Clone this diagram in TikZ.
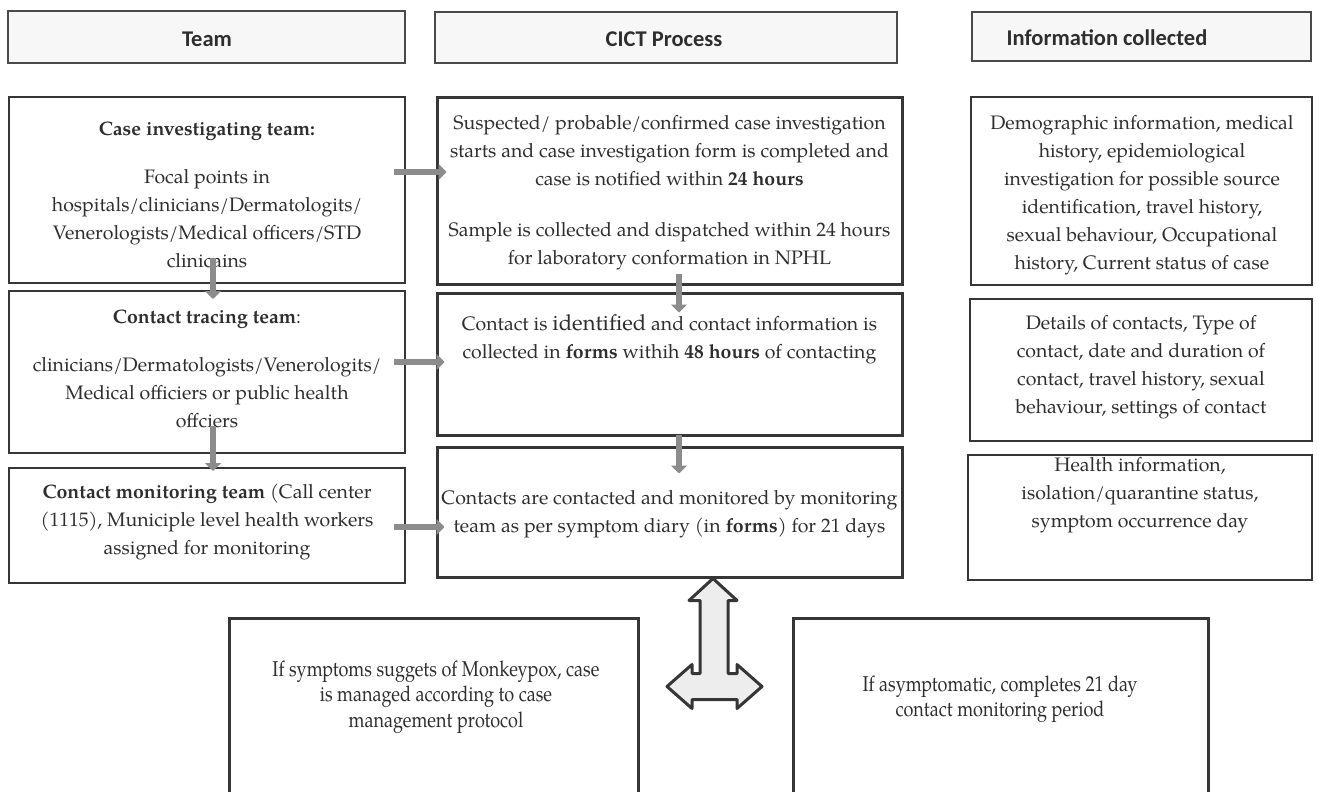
\documentclass[tikz,border=0pt]{standalone}
\usepackage{fontspec}
\setmainfont{TeX Gyre Pagella}
\newfontfamily\hdrfont{Carlito}
\newfontfamily\condfont{TeX Gyre Pagella}[FakeStretch=0.84]
\usetikzlibrary{arrows.meta}
\definecolor{edge}{HTML}{363636}
\definecolor{hedge}{HTML}{4A4A4A}
\definecolor{hfill}{HTML}{F7F7F7}
\definecolor{garr}{HTML}{8C8C8C}
\definecolor{dfill}{HTML}{EDEDED}
\definecolor{txt}{HTML}{2E2E2E}
\tikzset{
  hdrbox/.style={draw=hedge, fill=hfill, line width=1.6pt, inner sep=0pt},
  hdrtext/.style={inner sep=0pt, font=\hdrfont\bfseries\fontsize{22.5}{26}\selectfont, text=txt},
  sidebox/.style={draw=edge, line width=2pt, inner sep=0pt},
  midbox/.style={draw=edge, line width=3pt, inner sep=0pt},
  botbox/.style={draw=edge, line width=3pt, inner sep=0pt},
  bodytext/.style={align=center, inner sep=0pt, text=txt, font=\fontsize{19.5}{28}\selectfont},
  bottext/.style={align=center, inner sep=0pt, text=txt, font=\condfont\fontsize{21.5}{25.5}\selectfont},
  garrow/.style={draw=garr, line width=6.5pt, -{Triangle[length=8pt,width=16pt]}},
  dblarrow/.style={draw=edge, fill=dfill, line width=3pt, line join=round}
}
\begin{document}
\begin{tikzpicture}[x=1pt,y=-1pt]
\useasboundingbox (0,0) rectangle (1317,792);

% header row
\node[hdrbox, minimum width=397pt, minimum height=52pt] (hT) at (206.5,37) {};
\node[hdrbox, minimum width=462pt, minimum height=51pt] (hC) at (666,37.5) {};
\node[hdrbox, minimum width=339pt, minimum height=49pt] (hI) at (1141.5,36.5) {};
\node[hdrtext] (hTt) at (207,39) {Team};
\node[hdrtext] (hCt) at (664,39) {CICT Process};
\node[hdrtext] (hIt) at (1107,38) {Information collected};

% left column
\node[sidebox, minimum width=396pt, minimum height=186pt] (l1) at (207,190) {};
\node[sidebox, minimum width=396pt, minimum height=162pt] (l2) at (207,372) {};
\node[sidebox, minimum width=396pt, minimum height=115pt] (l3) at (207,525.5) {};

% middle column
\node[midbox, minimum width=465pt, minimum height=187pt] (m1) at (669.5,190.5) {};
\node[midbox, minimum width=465pt, minimum height=142pt] (m2) at (669.5,364) {};
\node[midbox, minimum width=465pt, minimum height=130pt] (m3) at (669.5,512) {};

% right column
\node[sidebox, minimum width=341pt, minimum height=188pt] (r1) at (1141.5,191) {};
\node[sidebox, minimum width=342pt, minimum height=142pt] (r2) at (1141,370) {};
\node[sidebox, minimum width=344pt, minimum height=125pt] (r3) at (1140,517.5) {};

% bottom boxes
\node[botbox, minimum width=409pt, minimum height=182pt] (b1) at (433.5,709) {};
\node[botbox, minimum width=415pt, minimum height=182pt] (b2) at (1000.5,709) {};

% texts
\node[bodytext] (l1t) at (207,195) {\textbf{Case investigating team:}\\[20pt]
Focal points in\\ hospitals/clinicians/Dermatologits/\\ Venerologists/Medical officers/STD\\ clinicains};
\node[bodytext] (l2t) at (207,369) {\textbf{Contact tracing team}:\\[20pt]
clinicians/Dermatologists/Venerologits/\\ Medical officiers or public health\\ offciers};
\node[bodytext] (l3t) at (207,522) {\textbf{Contact monitoring team} (Call center\\ (1115), Municiple level health workers\\ assigned for monitoring};

\node[bodytext] (m1t) at (669.5,193) {Suspected/ probable/confirmed case investigation\\ starts and case investigation form  is completed and\\ case is notified within \textbf{24 hours}\\[23pt]
Sample is collected and dispatched within 24 hours\\ for laboratory conformation in NPHL};
\node[bodytext] (m2t) at (669.5,339) {Contact is {\fontsize{22}{28}\selectfont identified} and contact information is\\ collected in  \textbf{forms} withih \textbf{48 hours} of contacting};
\node[bodytext] (m3t) at (669.5,514) {Contacts are contacted and monitored by monitoring\\ team as per symptom diary (in \textbf{forms}) for 21 days};

\node[bodytext] (r1t) at (1142,195) {Demographic information, medical\\ history,  epidemiological\\ investigation for possible source\\ identification, travel history,\\ sexual behaviour,  Occupational\\ history, Current status of case};
\node[bodytext] (r2t) at (1141,367.5) {Details of contacts, Type of\\ contact, date and duration of\\ contact, travel history, sexual\\ behaviour, settings of contact};
\node[bodytext] (r3t) at (1140,495) {Health information,\\ isolation/quarantine status,\\ symptom occurrence day};

\node[bottext] (b1t) at (436,697) {If symptoms suggets of Monkeypox, case\\ is managed according to case\\ management protocol};
\node[bottext] (b2t) at (1000,699) {If asymptomatic, completes 21 day\\ contact monitoring period};

% horizontal gray arrows
\draw[garrow] ([xshift=-12pt,yshift=18pt]l1.east) -- ([xshift=11pt,yshift=18pt]l1.east -| m1.west);
\draw[garrow] ([xshift=-12pt,yshift=10pt]l2.east) -- ([xshift=9pt,yshift=10pt]l2.east -| m2.west);
\draw[garrow] ([xshift=-12pt,yshift=-1.5pt]l3.east) -- ([xshift=9pt,yshift=-1.5pt]l3.east -| m3.west);

% vertical gray arrows
\draw[garrow] ([xshift=6pt,yshift=26pt]l1.south) -- ([xshift=6pt,yshift=-9pt]l2.north);
\draw[garrow] ([xshift=6pt,yshift=28pt]l2.south) -- ([xshift=6pt,yshift=-4pt]l3.north);
\draw[garrow] ([xshift=9.5pt,yshift=12pt]m1.south) -- ([xshift=9.5pt,yshift=-21pt]m2.north);
\draw[garrow] ([xshift=9.5pt,yshift=2pt]m2.south) -- ([xshift=9.5pt,yshift=-28pt]m3.north);

% three-way arrow between m3 and the bottom boxes
\coordinate (dt) at ([xshift=43.5pt]m3.south);
\draw[dblarrow] (dt) -- ++(24,22) -- ++(-9,0) -- ++(0,73) -- ++(9,0) -- ++(0,-9)
  -- ++(25,22) -- ++(-25,22) -- ++(0,-9) -- ++(-45,0) -- ++(0,9)
  -- ++(-25,-22) -- ++(25,-22) -- ++(0,9) -- ++(8,0) -- ++(0,-73) -- ++(-11,0) -- cycle;
\end{tikzpicture}
\end{document}
